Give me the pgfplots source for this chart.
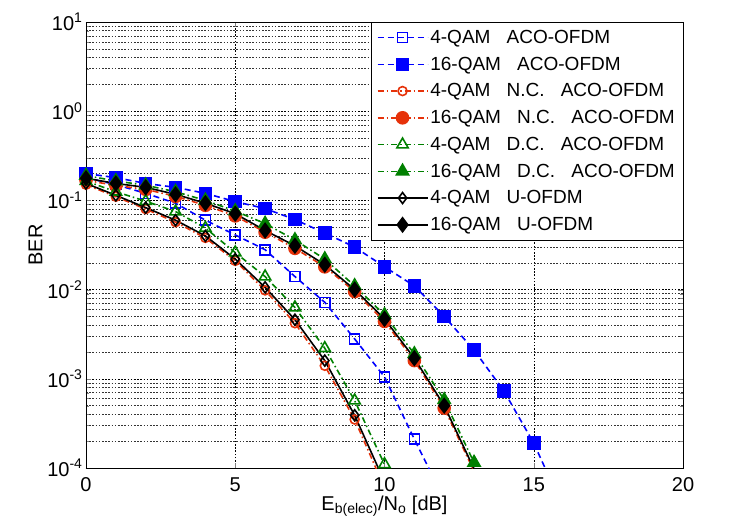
\documentclass[border=0pt]{standalone}
\usepackage{fontspec}
\setmainfont{Liberation Sans}
\usepackage{pgfplots}
\pgfplotsset{compat=1.18}
\usetikzlibrary{calc}
\definecolor{mblue}{RGB}{0,0,255}
\definecolor{mred}{RGB}{230,50,10}
\definecolor{mgreen}{RGB}{0,128,0}
\newcommand{\gap}{\hspace{0.85em}}

\begin{document}
\begin{tikzpicture}
\begin{axis}[
  scale only axis, width=597bp, height=446bp,
  ymode=log, xmin=0, xmax=20, ymin=1e-4, ymax=10,
  xtick={0,5,10,15,20},
  ytick={1e-4,1e-3,1e-2,1e-1,1,10},
  yticklabels={10\textsuperscript{-4},10\textsuperscript{-3},10\textsuperscript{-2},10\textsuperscript{-1},10\textsuperscript{0},10\textsuperscript{1}},
  /pgf/number format/assume math mode=true,
  tick label style={font=\fontsize{20bp}{22bp}\selectfont},
  xticklabel style={yshift=-6bp},
  label style={font=\fontsize{20bp}{22bp}\selectfont},
  xlabel={E\textsubscript{b(elec)}/N\textsubscript{o} [dB]},
  ylabel={BER},
  xlabel style={yshift=3bp},
  ylabel style={yshift=-2bp},
  tick align=inside, major tick length=5bp, minor tick length=3bp,
  xmajorgrids, ymajorgrids, yminorgrids,
  major grid style={black, dash pattern=on 1.6bp off 1.6bp, line width=0.5bp},
  minor grid style={black!80, dash pattern=on 1.6bp off 1.6bp, line width=0.4bp},
  axis line style={black, line width=0.8bp},
  legend cell align=left,
  legend style={at={(1,1)}, anchor=north east, draw=black, fill=white,
    font=\fontsize{19bp}{21bp}\selectfont, row sep=8bp, inner sep=6bp},
  legend image code/.code={\draw[mark repeat=2,mark phase=2] plot coordinates {(0bp,0bp) (25bp,0bp) (50bp,0bp)};},
]
\addplot[mblue, line width=1.6bp, dash pattern=on 6bp off 4bp, mark=square, mark size=5bp, mark options={solid, line width=1.6bp}] coordinates {
(0,0.18) (1,0.15) (2,0.12) (3,0.093) (4,0.060) (5,0.041) (6,0.028) (7,0.014) (8,0.0072) (9,0.0028) (10,0.00105) (11,0.00021) (12,0.000045)};
\addplot[mblue, line width=1.6bp, dash pattern=on 6bp off 4bp, mark=square*, mark size=6bp, mark options={solid}] coordinates {
(0,0.20) (1,0.18) (2,0.155) (3,0.14) (4,0.12) (5,0.097) (6,0.081) (7,0.061) (8,0.043) (9,0.030) (10,0.018) (11,0.011) (12,0.005) (13,0.0021) (14,0.00073) (15,0.00019) (16,0.000035)};
\addplot[mred, line width=1.6bp, dash pattern=on 6bp off 3bp on 1.5bp off 3bp, mark=o, mark size=4.5bp, mark options={solid, line width=1.6bp}] coordinates {
(0,0.15) (1,0.11) (2,0.08) (3,0.057) (4,0.038) (5,0.021) (6,0.0098) (7,0.0042) (8,0.0014) (9,0.00035) (10,0.00006)};
\addplot[mred, line width=1.6bp, dash pattern=on 6bp off 3bp on 1.5bp off 3bp, mark=*, mark size=6bp, mark options={solid}] coordinates {
(0,0.168) (1,0.147) (2,0.133) (3,0.111) (4,0.088) (5,0.067) (6,0.044) (7,0.029) (8,0.018) (9,0.0095) (10,0.0044) (11,0.0016) (12,0.00047) (13,0.000092)};
\addplot[mgreen, line width=1.6bp, dash pattern=on 6bp off 3bp on 1.5bp off 3bp, mark=triangle, mark size=6.5bp, mark options={solid, line width=1.6bp}] coordinates {
(0,0.165) (1,0.125) (2,0.098) (3,0.075) (4,0.049) (5,0.026) (6,0.014) (7,0.0063) (8,0.0022) (9,0.00057) (10,0.00011)};
\addplot[mgreen, line width=1.6bp, dash pattern=on 6bp off 3bp on 1.5bp off 3bp, mark=triangle*, mark size=7bp, mark options={solid}] coordinates {
(0,0.19) (1,0.165) (2,0.148) (3,0.125) (4,0.10) (5,0.076) (6,0.055) (7,0.036) (8,0.022) (9,0.011) (10,0.0052) (11,0.0019) (12,0.00058) (13,0.000115)};
\addplot[black, line width=1.6bp, solid, mark=diamond, mark size=5.5bp, mark options={solid, line width=1.6bp}] coordinates {
(0,0.155) (1,0.114) (2,0.083) (3,0.060) (4,0.040) (5,0.022) (6,0.0106) (7,0.0046) (8,0.0016) (9,0.00039) (10,0.00007)};
\addplot[black, line width=1.6bp, solid, mark=diamond*, mark size=7bp, mark options={solid}] coordinates {
(0,0.177) (1,0.155) (2,0.14) (3,0.117) (4,0.093) (5,0.071) (6,0.046) (7,0.031) (8,0.019) (9,0.010) (10,0.0047) (11,0.0017) (12,0.0005) (13,0.000098)};
\legend{4-QAM\gap ACO-OFDM, 16-QAM\gap ACO-OFDM, 4-QAM\gap N.C.\gap ACO-OFDM, 16-QAM\gap N.C.\gap ACO-OFDM, 4-QAM\gap D.C.\gap ACO-OFDM, 16-QAM\gap D.C.\gap ACO-OFDM, 4-QAM\gap U-OFDM, 16-QAM\gap U-OFDM}
\end{axis}
\path ($(current axis.south west)+(-86bp,-55bp)$) rectangle ($(current axis.north east)+(49bp,22bp)$);
\end{tikzpicture}
\end{document}
